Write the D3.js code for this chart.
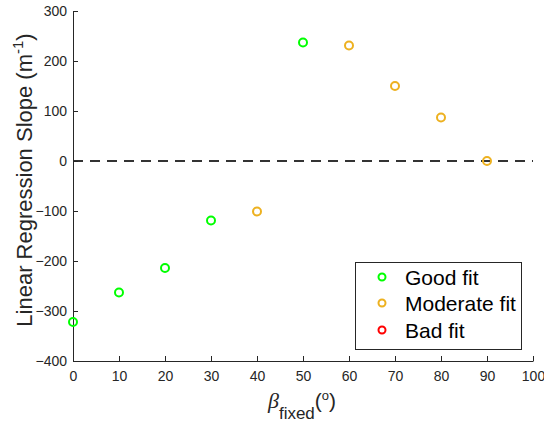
<!DOCTYPE html>
<html><head><meta charset="utf-8">
<script src="https://cdn.jsdelivr.net/npm/d3@7/dist/d3.min.js"></script>
<style>
html,body{margin:0;padding:0;background:#fff;}
svg{display:block;font-family:"Liberation Sans",Arial,sans-serif;}
</style></head>
<body><svg id="chart" width="544" height="423"></svg>
<script>
const goodX = [0, 10, 20, 30, 50];
const goodY = [-322, -263, -214, -119, 237];
const moderateX = [40, 60, 70, 80, 90];
const moderateY = [-101, 231, 150, 87, 0];
const badX = [];
const badY = [];
const xTicks = [0,10,20,30,40,50,60,70,80,90,100];
const yTicks = [-400,-300,-200,-100,0,100,200,300];
const legendLabels = ["Good fit", "Moderate fit", "Bad fit"];
const colors = ["#00ff00", "#EDB120", "#ff0000"];

const svg = d3.select("#chart");
const x = d3.scaleLinear().domain([0,100]).range([73,533]);
const y = d3.scaleLinear().domain([-400,300]).range([361,11]);
const axisColor = "#262626";

// zero dashed line
svg.append("line")
  .attr("x1", x(0)).attr("x2", x(100))
  .attr("y1", y(0)).attr("y2", y(0))
  .attr("stroke", "#333").attr("stroke-width", 2)
  .attr("stroke-dasharray", "10,7");

const xAxis = svg.append("g").attr("transform", `translate(0,${y(-400)})`)
  .call(d3.axisBottom(x).tickValues(xTicks).tickSizeInner(-5).tickSizeOuter(0).tickPadding(10));
const yAxis = svg.append("g").attr("transform", `translate(${x(0)},0)`)
  .call(d3.axisLeft(y).tickValues(yTicks).tickSizeInner(-5).tickSizeOuter(0).tickPadding(6));
[xAxis, yAxis].forEach(g => {
  g.select(".domain").attr("stroke", axisColor).attr("stroke-width", 1);
  g.selectAll(".tick line").attr("stroke", axisColor);
  g.selectAll(".tick text").attr("fill", axisColor)
    .style("font-family", '"Liberation Sans",Arial,sans-serif').style("font-size", "14px");
});

// points
function drawSeries(xs, ys, color) {
  svg.append("g").selectAll("circle").data(xs.map((d,i)=>[d, ys[i]])).join("circle")
    .attr("cx", d => x(d[0])).attr("cy", d => y(d[1])).attr("r", 4)
    .attr("fill", "none").attr("stroke", color).attr("stroke-width", 2);
}
drawSeries(goodX, goodY, colors[0]);
drawSeries(moderateX, moderateY, colors[1]);
drawSeries(badX, badY, colors[2]);

// y label
const yl = svg.append("text")
  .attr("transform", "translate(32,180) rotate(-90)")
  .attr("text-anchor", "middle").attr("fill", axisColor)
  .style("font-size", "22px");
yl.append("tspan").text("Linear Regression Slope (m");
yl.append("tspan").attr("dy", -9).style("font-size", "15px").text("-1");
yl.append("tspan").attr("dy", 9).text(")");

// x label
const xl = svg.append("text")
  .attr("x", 302).attr("y", 408)
  .attr("text-anchor", "middle").attr("fill", axisColor)
  .style("font-size", "21px");
xl.append("tspan").style("font-family", '"Liberation Serif","Times New Roman",serif')
  .style("font-style", "italic").style("font-size", "22px").text("β");
xl.append("tspan").attr("dy", 11).style("font-size", "17px").text("fixed");
xl.append("tspan").attr("dy", -11).text("(");
xl.append("tspan").attr("dy", -8).style("font-size", "13px").text("o");
xl.append("tspan").attr("dy", 8).text(")");

// legend
const lg = svg.append("g");
lg.append("rect").attr("x", 355.5).attr("y", 262.5).attr("width", 166).attr("height", 87)
  .attr("fill", "#fff").attr("stroke", axisColor).attr("stroke-width", 1);
const rowsY = [277, 303, 330];
legendLabels.forEach((lab, i) => {
  lg.append("circle").attr("cx", 382).attr("cy", rowsY[i]).attr("r", 3.5)
    .attr("fill", "none").attr("stroke", colors[i]).attr("stroke-width", 2);
  lg.append("text").attr("x", 405).attr("y", rowsY[i]).attr("dy", "0.36em")
    .attr("fill", "#000").style("font-size", "21px").text(lab);
});
</script></body></html>
